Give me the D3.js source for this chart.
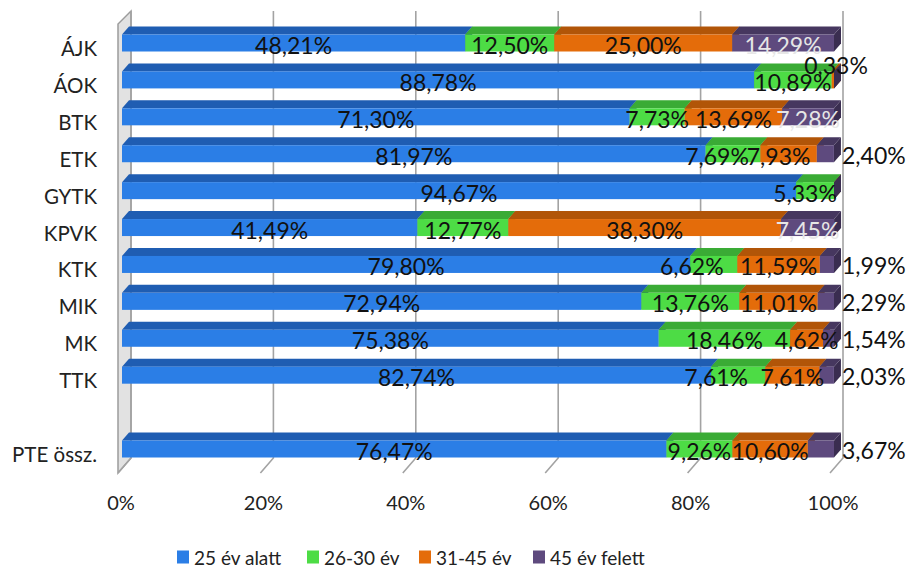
<!DOCTYPE html>
<html>
<head>
<meta charset="utf-8">
<script src="https://cdn.jsdelivr.net/npm/d3@7"></script>
<style>
  body { margin: 0; background: #fff; }
  text { font-family: Lato, "Open Sans", sans-serif; }
</style>
</head>
<body>
<div id="chart"></div>
<script>
// adatok
var categories = ["ÁJK", "ÁOK", "BTK", "ETK", "GYTK", "KPVK", "KTK", "MIK", "MK", "TTK", "", "PTE össz."];
var seriesNames = ["25 év alatt", "26-30 év", "31-45 év", "45 év felett"];
var s25alatt = [48.21, 88.78, 71.30, 81.97, 94.67, 41.49, 79.80, 72.94, 75.38, 82.74, null, 76.47];
var s26_30 = [12.50, 10.89, 7.73, 7.69, 5.33, 12.77, 6.62, 13.76, 18.46, 7.61, null, 9.26];
var s31_45 = [25.00, 0.33, 13.69, 7.93, 0, 38.30, 11.59, 11.01, 4.62, 7.61, null, 10.60];
var s45felett = [14.29, 0, 7.28, 2.40, 0, 7.45, 1.99, 2.29, 1.54, 2.03, null, 3.67];
var ticks = [0, 20, 40, 60, 80, 100];

var frontColors = ["#2b7ee6", "#4ddc45", "#e46c0a", "#5e4a7e"];
var topColors = ["#1f5db2", "#3aab35", "#b15508", "#46375f"];
var sideColors = ["#184a8e", "#2e8a2a", "#8c4306", "#3a2d50"];
var labelColors = ["#111", "#111", "#111", "#e6e6e6"];

// kezzel arrebb tolt cimkek (Excelben is el voltak huzva)
var nudge = { "ETK|1": -16, "ETK|2": -10, "KTK|1": -22, "TTK|1": -22, "GYTK|1": -10 };

var W = 911, H = 572;
var svg = d3.select("#chart").append("svg").attr("width", W).attr("height", H);

var xb = d3.scaleLinear().domain([0, 100]).range([131, 843]); // hatso sik
var y = d3.scalePoint().domain(categories).range([43, 449]);
var fdx = -13, fdy = 15;   // melyseg a padlo eleje fele
var bdx = 7, bdy = -8;     // oszlop teteje
var barOff = -9, barH = 17;

var fmt = d3.formatLocale({ decimal: ",", thousands: " ", grouping: [3], currency: ["", ""] }).format(".2f");

// fal
svg.append("polygon")
  .attr("points", [[131, 11], [131, 458], [118, 473], [118, 24]].join(" "))
  .attr("fill", "#e2e2e2").attr("stroke", "#9c9c9c").attr("stroke-width", 1.5);

// racsvonalak
svg.selectAll(".grid").data(ticks).enter().append("polyline")
  .attr("class", "grid")
  .attr("points", function(t) {
    return [[xb(t), 11], [xb(t), 458], [xb(t) + fdx, 458 + fdy]].join(" ");
  })
  .attr("fill", "none").attr("stroke", "#a3a3a3").attr("stroke-width", 1.6);

svg.selectAll(".tick").data(ticks).enter().append("text")
  .attr("x", function(t) { return xb(t) - 10; })
  .attr("y", 502)
  .attr("text-anchor", "middle").attr("dominant-baseline", "central")
  .attr("font-size", 20).attr("fill", "#222")
  .text(function(t) { return t + "%"; });

// kategoria cimkek
svg.selectAll(".cat").data(categories).enter().append("text")
  .attr("x", 97).attr("y", function(c) { return y(c) + 5; })
  .attr("text-anchor", "end").attr("dominant-baseline", "central")
  .attr("font-size", 20.5).attr("fill", "#222")
  .text(function(c) { return c; });

var allSeries = [s25alatt, s26_30, s31_45, s45felett];
var segs = [];
categories.forEach(function(c, i) {
  if (s25alatt[i] == null) return;
  var acc = 0;
  allSeries.forEach(function(s, k) {
    segs.push({ cat: c, k: k, v: s[i], x0: acc, x1: acc + s[i] });
    acc += s[i];
  });
});

var g = svg.append("g");
segs.forEach(function(d) {
  var xa = xb(d.x0) + barOff, xe = xb(d.x1) + barOff;
  var yt = y(d.cat) - barH / 2, ybm = y(d.cat) + barH / 2;
  g.append("polygon")
    .attr("points", [[xe, yt], [xe, ybm], [xe + bdx, ybm + bdy], [xe + bdx, yt + bdy]].join(" "))
    .attr("fill", sideColors[d.k]);
  g.append("polygon")
    .attr("points", [[xa, yt], [xe, yt], [xe + bdx, yt + bdy], [xa + bdx, yt + bdy]].join(" "))
    .attr("fill", topColors[d.k]);
  g.append("rect")
    .attr("x", xa).attr("y", yt).attr("width", Math.max(0, xe - xa)).attr("height", barH)
    .attr("fill", frontColors[d.k]);
});

// adatcimkek
segs.filter(function(d) { return d.v > 0; }).forEach(function(d) {
  var xa = xb(d.x0) + barOff, xe = xb(d.x1) + barOff;
  var cx = (xa + xe) / 2 + (nudge[d.cat + "|" + d.k] || 0);
  var cy = y(d.cat) + 2;
  var anchor = "middle", col = labelColors[d.k];
  if (d.v < 1) { cx = 836; cy = y(d.cat) - 15; col = "#111"; }
  else if (d.v < 4) { cx = 842; anchor = "start"; cy = y(d.cat) + 1; col = "#111"; }
  svg.append("text")
    .attr("x", cx).attr("y", cy)
    .attr("text-anchor", anchor).attr("dominant-baseline", "central")
    .attr("font-size", 23).attr("fill", col)
    .text(fmt(d.v) + "%");
});

// jelmagyarazat
var legX = [177, 307, 419, 533];
var leg = svg.selectAll(".leg").data(seriesNames).enter().append("g")
  .attr("transform", function(d, i) { return "translate(" + legX[i] + ",557)"; });
leg.append("rect").attr("x", 0).attr("y", -6.5).attr("width", 12).attr("height", 13)
  .attr("fill", function(d, i) { return frontColors[i]; });
leg.append("text").attr("x", 17).attr("y", 0).attr("dominant-baseline", "central")
  .attr("font-size", 19).attr("fill", "#222").text(function(d) { return d; });
</script>
</body>
</html>
